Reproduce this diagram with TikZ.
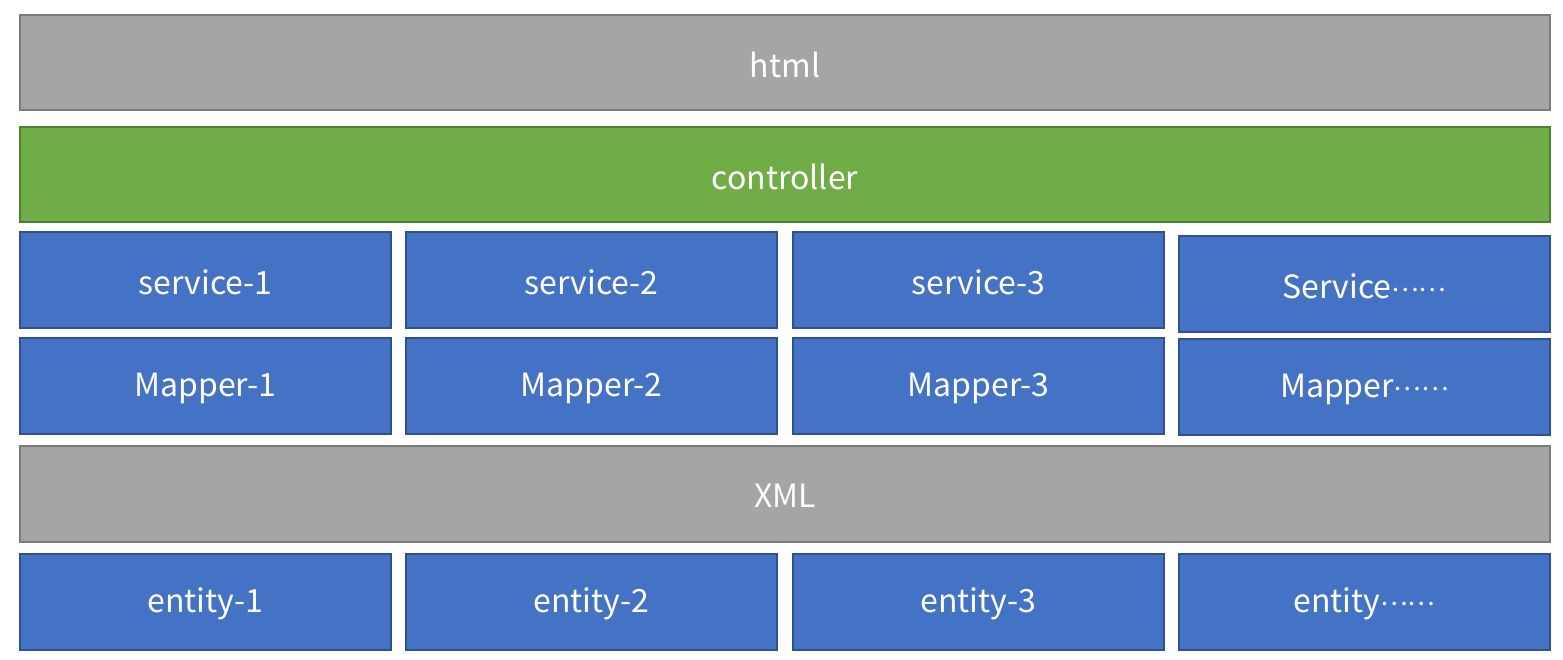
\documentclass[tikz,border=0pt]{standalone}
\usepackage{fontspec}
\setmainfont{Noto Sans CJK SC}
\definecolor{grayfill}{HTML}{A5A5A5}
\definecolor{grayline}{HTML}{7B7B7B}
\definecolor{greenfill}{HTML}{70AD47}
\definecolor{greenline}{HTML}{507E32}
\definecolor{bluefill}{HTML}{4472C4}
\definecolor{blueline}{HTML}{2F528F}
\tikzset{
  base/.style={line width=2pt, text=white, font=\fontsize{32}{38}\selectfont},
  graybox/.style={base, draw=grayline, fill=grayfill},
  greenbox/.style={base, draw=greenline, fill=greenfill},
  bluebox/.style={base, draw=blueline, fill=bluefill},
}
\newcommand{\dotsmid}{\raisebox{0.22em}{\fontsize{26}{30}\selectfont……}}
\begin{document}
\begin{tikzpicture}[x=1pt,y=-1pt]
\useasboundingbox (0,0) rectangle (1563,659);
\newcommand{\mybox}[7]{%
  \draw[#1] (#2,#3) rectangle (#4,#5);
  \node[base, inner sep=0pt] (#6) at ({(#2+#4)/2},{(#3+#5)/2+2}) {#7};
}
\mybox{graybox}{20}{15}{1550}{110}{html}{html}
\mybox{greenbox}{20}{127}{1550}{222}{controller}{controller}
\mybox{bluebox}{20}{232}{391}{328}{s1}{service-1}
\mybox{bluebox}{406}{232}{777}{328}{s2}{service-2}
\mybox{bluebox}{793}{232}{1164}{328}{s3}{service-3}
\mybox{bluebox}{1179}{236}{1550}{332}{s4}{Service\dotsmid}
\mybox{bluebox}{20}{338}{391}{434}{m1}{Mapper-1}
\mybox{bluebox}{406}{338}{777}{434}{m2}{Mapper-2}
\mybox{bluebox}{793}{338}{1164}{434}{m3}{Mapper-3}
\mybox{bluebox}{1179}{339}{1550}{435}{m4}{Mapper\dotsmid}
\mybox{graybox}{20}{446}{1550}{542}{xml}{XML}
\mybox{bluebox}{20}{554}{391}{650}{e1}{entity-1}
\mybox{bluebox}{406}{554}{777}{650}{e2}{entity-2}
\mybox{bluebox}{793}{554}{1164}{650}{e3}{entity-3}
\mybox{bluebox}{1179}{554}{1550}{650}{e4}{entity\dotsmid}
\end{tikzpicture}
\end{document}
